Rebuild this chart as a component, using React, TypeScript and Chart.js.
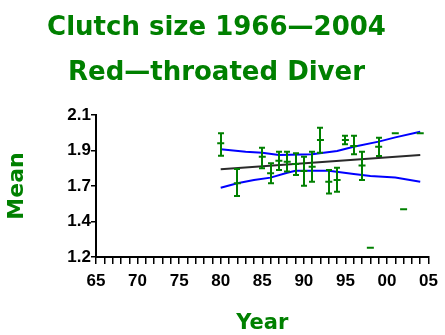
import React, { useEffect, useRef } from 'react';
import { Chart, registerables } from 'chart.js';

Chart.register(...registerables);

const GREEN = '#008000';

const titleLines = ['Clutch size 1966\u20142004', 'Red\u2014throated Diver'];
const xAxisTitle = 'Year';
const yAxisTitle = 'Mean';

// observations: mean with upper / lower error limits (null = no error bar)
const years = [1980, 1982, 1985, 1986, 1987, 1988, 1989, 1990, 1991, 1992, 1993, 1994, 1995, 1996, 1997, 1998, 1999, 2001, 2002, 2004];
const means = [1.92, 1.667, 1.836, 1.73, 1.81, 1.804, 1.789, 1.745, 1.772, 1.941, 1.677, 1.688, 1.941, 1.903, 1.779, 1.259, 1.899, 1.984, 1.502, 1.984];
const upperErr = [1.984, 1.758, 1.893, 1.794, 1.867, 1.867, 1.857, 1.836, 1.867, 2.019, 1.751, 1.766, 1.969, 1.969, 1.867, null, 1.956, null, null, null];
const lowerErr = [1.842, 1.587, 1.762, 1.667, 1.751, 1.741, 1.72, 1.652, 1.677, 1.861, 1.603, 1.614, 1.914, 1.851, 1.688, null, 1.84, null, null, null];

// regression line
const trendYears = [1980, 2004];
const trendValues = [1.756, 1.846];

// confidence band
const upperBandYears = [1980, 1983, 1985, 1987, 1991, 1994, 1996, 1999, 2001, 2004];
const upperBandValues = [1.882, 1.867, 1.861, 1.846, 1.851, 1.872, 1.899, 1.931, 1.958, 1.994];
const lowerBandYears = [1980, 1982, 1984, 1986, 1988, 1989, 1993, 1996, 1998, 2001, 2004];
const lowerBandValues = [1.639, 1.667, 1.688, 1.703, 1.734, 1.747, 1.747, 1.726, 1.713, 1.703, 1.677];

// axes
const xMin = 1965;
const xMax = 2005;
const xTickLabels = ['65', '70', '75', '80', '85', '90', '95', '00', '05'];
const yTickValues = [1.2, 1.425, 1.65, 1.875, 2.1];
const yTickLabels = ['1.2', '1.4', '1.7', '1.9', '2.1'];

const pts = (xs: number[], ys: (number | null)[]) => xs.map((x, i) => ({ x, y: ys[i] as number }));

const errorBarPlugin = {
  id: 'errorBars',
  afterDatasetsDraw(chart: any) {
    const { ctx, scales } = chart;
    const x = scales.x;
    const y = scales.y;
    ctx.save();
    ctx.strokeStyle = GREEN;
    ctx.lineWidth = 2;
    years.forEach((yr, i) => {
      const hi = upperErr[i];
      const lo = lowerErr[i];
      if (hi == null || lo == null) return;
      const px = Math.round(x.getPixelForValue(yr));
      const pyH = y.getPixelForValue(hi);
      const pyL = y.getPixelForValue(lo);
      ctx.beginPath();
      ctx.moveTo(px, pyH);
      ctx.lineTo(px, pyL);
      ctx.moveTo(px - 3, pyH);
      ctx.lineTo(px + 3, pyH);
      ctx.moveTo(px - 3, pyL);
      ctx.lineTo(px + 3, pyL);
      ctx.stroke();
    });
    ctx.restore();
  },
};

export default function App() {
  const canvasRef = useRef<HTMLCanvasElement | null>(null);

  useEffect(() => {
    const canvas = canvasRef.current;
    if (!canvas) return;
    const chart = new Chart(canvas, {
      type: 'line',
      data: {
        datasets: [
          {
            label: 'Mean',
            data: pts(years, means),
            showLine: false,
            pointStyle: 'line',
            pointRadius: 3.5,
            pointBorderWidth: 2,
            pointBorderColor: GREEN,
            borderColor: GREEN,
          },
          {
            label: 'Trend',
            data: pts(trendYears, trendValues),
            borderColor: '#2a2a2a',
            borderWidth: 2,
            pointRadius: 0,
            fill: false,
          },
          {
            label: 'Upper',
            data: pts(upperBandYears, upperBandValues),
            borderColor: '#0000ff',
            borderWidth: 2,
            pointRadius: 0,
            fill: false,
          },
          {
            label: 'Lower',
            data: pts(lowerBandYears, lowerBandValues),
            borderColor: '#0000ff',
            borderWidth: 2,
            pointRadius: 0,
            fill: false,
          },
        ],
      },
      options: {
        responsive: false,
        animation: false,
        events: [],
        layout: { padding: { top: 0, left: 0, right: 12, bottom: 0 } },
        plugins: {
          legend: { display: false },
          tooltip: { enabled: false },
          title: {
            display: true,
            text: titleLines,
            color: GREEN,
            font: { family: '"DejaVu Sans"', weight: 'bold', size: 26, lineHeight: 1.73 },
            padding: { top: 6, bottom: 19 },
          },
        },
        scales: {
          x: {
            type: 'linear',
            min: xMin,
            max: xMax,
            afterFit: (s: any) => {
              s.height = 78;
            },
            ticks: {
              stepSize: 1,
              autoSkip: false,
              maxRotation: 0,
              minRotation: 0,
              padding: 7,
              color: '#000',
              font: { family: '"Liberation Sans"', weight: 'bold', size: 17 },
              callback: (v: any) => {
                const n = Number(v);
                if ((n - xMin) % 5 !== 0) return '';
                return xTickLabels[(n - xMin) / 5];
              },
            },
            grid: { drawOnChartArea: false, drawTicks: true, tickLength: 7, color: '#000', lineWidth: 1.5 },
            border: { display: true, color: '#000', width: 2 },
            title: {
              display: true,
              text: xAxisTitle,
              color: GREEN,
              font: { family: '"DejaVu Sans"', weight: 'bold', size: 21, lineHeight: 1 },
              padding: { top: 0, bottom: 1 },
            },
          },
          y: {
            type: 'linear',
            min: 1.2,
            max: 2.1,
            afterFit: (s: any) => {
              s.width = 96;
            },
            afterBuildTicks: (s: any) => {
              s.ticks = yTickValues.map((value) => ({ value }));
            },
            ticks: {
              padding: 0,
              color: '#000',
              font: { family: '"Liberation Sans"', weight: 'bold', size: 17 },
              callback: (_v: any, i: number) => yTickLabels[i],
            },
            grid: { drawOnChartArea: false, drawTicks: true, tickLength: 5, color: '#000', lineWidth: 1.5 },
            border: { display: true, color: '#000', width: 2 },
            title: {
              display: true,
              text: yAxisTitle,
              color: GREEN,
              font: { family: '"DejaVu Sans"', weight: 'bold', size: 22, lineHeight: 1 },
              padding: { top: 6, bottom: 0 },
            },
          },
        },
      },
      plugins: [errorBarPlugin],
    } as any);
    return () => chart.destroy();
  }, []);

  return (
    <div style={{ position: 'fixed', left: 0, top: 0, width: 445, height: 335, background: '#fff' }}>
      <canvas ref={canvasRef} width={445} height={335} style={{ width: 445, height: 335, display: 'block' }} />
    </div>
  );
}
